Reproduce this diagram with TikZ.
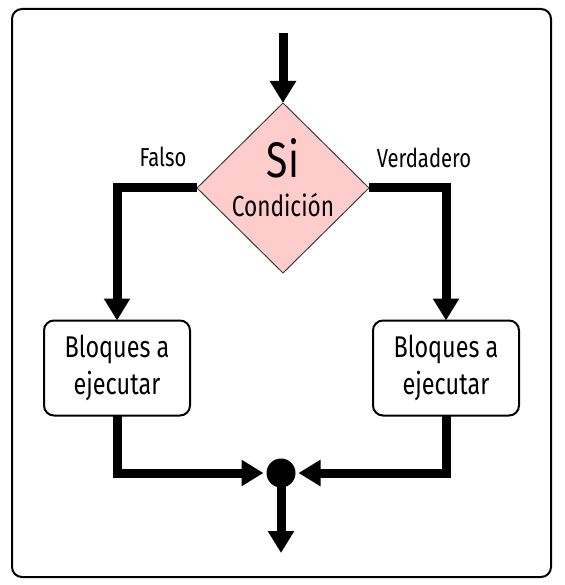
\documentclass[tikz,border=0pt]{standalone}
\usepackage{fontspec}
\setmainfont{Fira Sans}[FakeStretch=0.78]
\usetikzlibrary{arrows.meta,shapes.geometric}
\definecolor{pinkfill}{HTML}{FFCCCC}
\begin{document}
\begin{tikzpicture}[x=1pt,y=-1pt,
  conn/.style={line width=9pt},
  flow/.style={line width=9pt,-{Triangle[length=22pt,width=25pt]}},
  blk/.style={draw,line width=2pt,rounded corners=10pt,fill=white,
    minimum width=146pt,minimum height=95pt,inner sep=0pt,outer sep=0pt,
    align=center,font=\fontsize{30}{37}\selectfont},
  cond/.style={diamond,draw=black!75,line width=1pt,fill=pinkfill,aspect=1,
    minimum width=172pt,minimum height=170pt,inner sep=0pt,outer sep=0pt},
  lbl/.style={anchor=base,inner sep=0pt,font=\fontsize{26}{28}\selectfont}
]
\useasboundingbox (0,0) rectangle (564,585);
\draw[line width=2pt,rounded corners=10pt] (12,9) rectangle (551,577);

\node[cond] (d) at (283,188) {};
\node[anchor=base,inner sep=0pt,font=\fontsize{50}{50}\selectfont] (si) at (283,178) {Si};
\node[anchor=base,inner sep=0pt,font=\fontsize{29}{30}\selectfont] (cd) at (283,216) {Condición};

\node[blk] (b1) at (117,368) {Bloques a\\ejecutar};
\node[blk] (b2) at (446,368) {Bloques a\\ejecutar};

\node[lbl] (f) at (163,167) {Falso};
\node[lbl] (v) at (424,168) {Verdadero};

\node[circle,fill=black,minimum size=29pt,inner sep=0pt,outer sep=0pt] (dot) at (281,473) {};
\coordinate (top) at (283,33);
\coordinate (end) at (281,553);

\draw[flow] (top) -- (d.north);
\draw[flow] (d.west) -| (b1.north);
\draw[flow] (d.east) -| (b2.north);
\draw[flow,shorten >=3pt] (b1.south) |- (dot.west);
\draw[flow,shorten >=3pt] (b2.south) |- (dot.east);
\draw[flow] (dot.center) -- (end);
\end{tikzpicture}
\end{document}
